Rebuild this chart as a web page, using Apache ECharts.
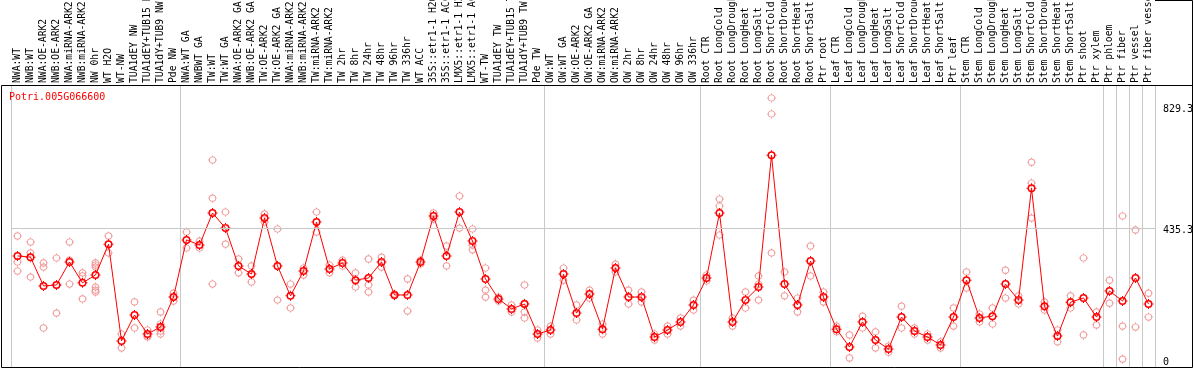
<!DOCTYPE html>
<html>
<head>
<meta charset="utf-8">
<script src="https://cdn.jsdelivr.net/npm/echarts@6/dist/echarts.min.js"></script>
<style>html,body{margin:0;padding:0;background:#fff}#c{width:1194px;height:370px}</style>
</head>
<body>
<div id="c"></div>
<script>
const geneName = 'Potri.005G066600';
const categories = [
 'NWA:WT','NWB:WT','NWA:OE-ARK2','NWB:OE-ARK2','NWA:miRNA-ARK2','NWB:miRNA-ARK2','NW 0hr','WT H2O','WT-NW','TUA1dEY NW','TUA1dEY+TUB15 NW','TUA1dY+TUB9 NW','Pde NW',
 'NWA:WT GA','NWBWT GA','TW:WT','TW:WT GA','NWA:OE-ARK2 GA','NWB:OE-ARK2 GA','TW:OE-ARK2','TW:OE-ARK2 GA','NWA:miRNA-ARK2','NWB:miRNA-ARK2','TW:miRNA-ARK2','TW:miRNA-ARK2',
 'TW 2hr','TW 8hr','TW 24hr','TW 48hr','TW 96hr','TW 336hr','WT ACC','35S::etr1-1 H2O','35S::etr1-1 ACC','LMX5::etr1-1 H2O','LMX5::etr1-1 ACC','WT-TW','TUA1dEY TW','TUA1dEY+TUB15 TW','TUA1dY+TUB9 TW','Pde TW',
 'OW:WT','OW:WT GA','OW:OE-ARK2','OW:OE-ARK2 GA','OW:miRNA-ARK2','OW:miRNA-ARK2','OW 2hr','OW 8hr','OW 24hr','OW 48hr','OW 96hr','OW 336hr',
 'Root CTR','Root LongCold','Root LongDrought','Root LongHeat','Root LongSalt','Root ShortCold','Root ShortDrought','Root ShortHeat','Root ShortSalt','Ptr root',
 'Leaf CTR','Leaf LongCold','Leaf LongDrought','Leaf LongHeat','Leaf LongSalt','Leaf ShortCold','Leaf ShortDrought','Leaf ShortHeat','Leaf ShortSalt','Ptr leaf',
 'Stem CTR','Stem LongCold','Stem LongDrought','Stem LongHeat','Stem LongSalt','Stem ShortCold','Stem ShortDrought','Stem ShortHeat','Stem ShortSalt',
 'Ptr shoot','Ptr xylem','Ptr phloem','Ptr fiber','Ptr vessel','Ptr fiber vessel'
];
// group separators: category index where a separator line sits on the left edge
const separators = [0,13,41,53,63,73,84,85,86,87,88];
const yTickLabels = [0, 435.3, 829.3];
const guideValue = 435.3;

const meanValues = [
 344,340,245,248,324,255,281,383,63,149,86,109,208,
 397,380,486,436,311,284,469,311,212,294,456,301,
 321,264,271,324,215,215,324,476,344,489,393,268,202,169,185,86,
 99,284,155,218,102,304,208,208,76,99,126,182,
 271,486,126,198,241,677,251,182,327,208,
 102,43,126,66,36,142,96,76,50,142,
 264,139,145,251,198,568,178,79,191,205,142,228,195,271,185
];
const replicates = [
 [410,324,294],[390,354,274],[321,307,106],[337,248,155],[390,330,251],[288,278,202],[321,314,307,241,231,225],[410,354],[86,40],[192,106],[99,76,79],[159,119,106,96,86],[221,208,195],
 [423,370],[393,370],[661,535,251],[489,383],[334,288],[311,284,258],[483,456],[433,198],[251,172],[304,281],[489,423],[314,288],
 [330,311],[288,241],[334,248,225],[340,307],[218,212],[268,162],[330,317],[486,466],[377,311],[542,436],[433,380,364],[304,231,208],[208,195],[182,159],[248,188,159,139],[99,73],
 [112,86],[304,264],[182,132],[231,205],[119,86],[317,291],[231,185],[225,192],[86,66],[112,86],[139,112],[198,165],
 [281,261],[532,509,413],[139,112],[225,172],[278,251,198],[866,813,354],[291,212],[205,159],[377,278],[225,192],
 [112,93],[83,7],[145,106],[93,40],[46,26],[178,106],[106,86],[86,66],[60,40],[172,112],
 [291,238],[152,126],[172,119],[297,205],[212,185],[654,585,469],[192,165],[99,60],[212,172],[337,83],[159,116],[264,188],[476,112,3],[430,109],[221,142]
];

const repPoints = [];
replicates.forEach((arr, i) => arr.forEach(v => repPoints.push([i, v])));

const ringThin = 'path://M1,5 A4,4 0 1,0 9,5 A4,4 0 1,0 1,5 Z M2,5 A3,3 0 1,1 8,5 A3,3 0 1,1 2,5 Z M4.5,0 L5.5,0 L5.5,1.05 L4.5,1.05 Z M4.5,8.95 L5.5,8.95 L5.5,10 L4.5,10 Z M0,4.5 L1.05,4.5 L1.05,5.5 L0,5.5 Z M8.95,4.5 L10,4.5 L10,5.5 L8.95,5.5 Z';
const ringThick = 'path://M1,5 A4,4 0 1,0 9,5 A4,4 0 1,0 1,5 Z M2.5,5 A2.5,2.5 0 1,1 7.5,5 A2.5,2.5 0 1,1 2.5,5 Z M4.5,0 L5.5,0 L5.5,1.05 L4.5,1.05 Z M4.5,8.95 L5.5,8.95 L5.5,10 L4.5,10 Z M0,4.5 L1.05,4.5 L1.05,5.5 L0,5.5 Z M8.95,4.5 L10,4.5 L10,5.5 L8.95,5.5 Z';

const sepFn = (idx) => separators.indexOf(idx) >= 0;
const mono = 'DejaVu Sans Mono';

const chart = echarts.init(document.getElementById('c'), null, {renderer: 'canvas'});
chart.setOption({
  animation: false,
  backgroundColor: '#fff',
  title: {
    text: geneName, left: 9, top: 92, padding: 0,
    textStyle: {fontFamily: mono, fontSize: 10, fontWeight: 'normal', color: '#ff0000'}
  },
  grid: {left: 11, right: 39, top: 85, bottom: 2, containLabel: false, outerBoundsMode: 'none'},
  xAxis: {
    type: 'category', position: 'top', data: categories, boundaryGap: true,
    axisLine: {show: false},
    axisTick: {show: true, interval: sepFn, length: 85, lineStyle: {color: '#c8c8c8', width: 1}},
    splitLine: {show: true, interval: sepFn, lineStyle: {color: '#c8c8c8', width: 1}},
    axisLabel: {interval: 0, rotate: 90, margin: 2, fontFamily: mono, fontSize: 9.7, color: '#000', hideOverlap: false}
  },
  yAxis: {type: 'value', min: -26.4, max: 908.9, show: false},
  series: [
    {
      type: 'line', data: [], z: 1, silent: true,
      markLine: {
        silent: true, symbol: 'none', animation: false,
        label: {position: 'end', distance: 8, fontFamily: mono, fontSize: 10, color: '#000', formatter: p => String(p.value)},
        data: yTickLabels.map(v => ({
          yAxis: v,
          label: {offset: [0, v === 829.3 ? 0 : 2]},
          lineStyle: {type: 'solid', width: 1, color: v === guideValue ? '#c8c8c8' : 'rgba(0,0,0,0)'}
        }))
      }
    },
    {
      type: 'scatter', data: repPoints, symbol: ringThin, symbolSize: 9, z: 3, silent: true,
      itemStyle: {color: '#f09898', opacity: 1}
    },
    {
      type: 'line', data: meanValues, symbol: ringThick, symbolSize: 10, showAllSymbol: true, z: 4, silent: true,
      lineStyle: {color: '#ff0000', width: 1},
      itemStyle: {color: '#ff0000'}
    }
  ],
  graphic: [
    {type: 'rect', silent: true, z: 10, shape: {x: 1.5, y: 85.5, width: 1191, height: 282}, style: {fill: null, stroke: '#000', lineWidth: 1}},
    {type: 'polyline', silent: true, z: 10, shape: {points: [[1155, 0.5], [1192.5, 0.5], [1192.5, 86]]}, style: {fill: null, stroke: '#000', lineWidth: 1}}
  ]
});
</script>
</body>
</html>
